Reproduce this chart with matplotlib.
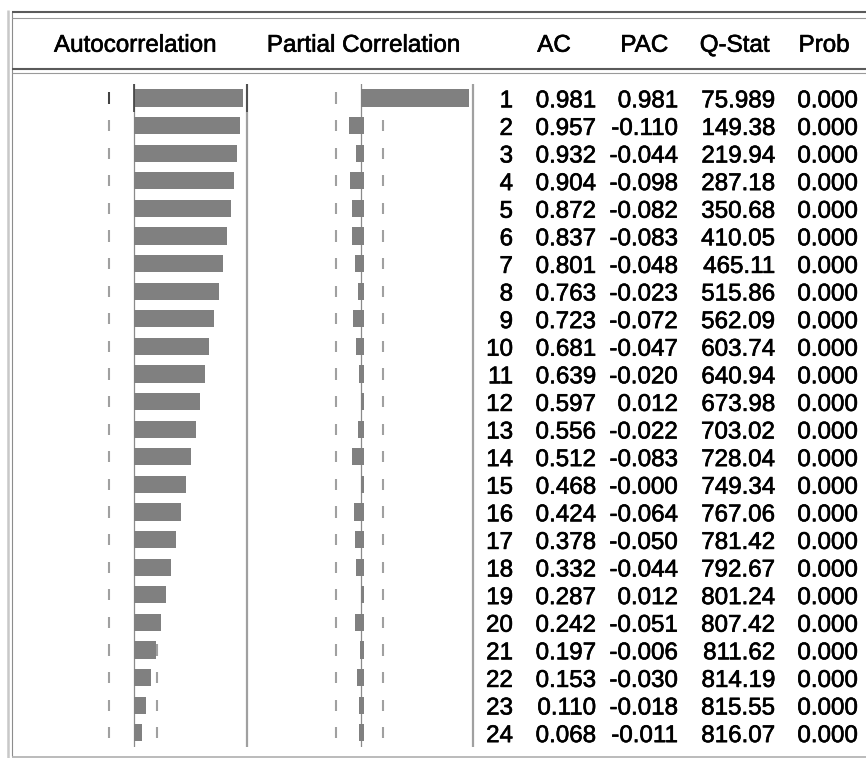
import matplotlib
matplotlib.use("Agg")
import matplotlib.pyplot as plt
import matplotlib.patheffects as pe

plt.rcParams['font.family'] = ['Liberation Sans', 'DejaVu Sans']

# correlogram values
lags = list(range(1, 25))
ac = [0.981, 0.957, 0.932, 0.904, 0.872, 0.837, 0.801, 0.763, 0.723, 0.681, 0.639, 0.597,
      0.556, 0.512, 0.468, 0.424, 0.378, 0.332, 0.287, 0.242, 0.197, 0.153, 0.110, 0.068]
pac = [0.981, -0.110, -0.044, -0.098, -0.082, -0.083, -0.048, -0.023, -0.072, -0.047, -0.020, 0.012,
       -0.022, -0.083, -0.0, -0.064, -0.050, -0.044, 0.012, -0.051, -0.006, -0.030, -0.018, -0.011]
qstat = [75.989, 149.38, 219.94, 287.18, 350.68, 410.05, 465.11, 515.86, 562.09, 603.74, 640.94, 673.98,
         703.02, 728.04, 749.34, 767.06, 781.42, 792.67, 801.24, 807.42, 811.62, 814.19, 815.55, 816.07]
prob = [0.000] * 24
conf_lo, conf_hi = -0.223, 0.205
headers = ["Autocorrelation", "Partial Correlation", "AC", "PAC", "Q-Stat", "Prob"]

W, H = 866, 758
FS = 17.4
thick = [pe.withStroke(linewidth=0.45, foreground='black')]
fig = plt.figure(figsize=(W / 100, H / 100), dpi=100)


def px_axes(x0, y0, x1, y1):
    a = fig.add_axes([x0 / W, 1 - y1 / H, (x1 - x0) / W, (y1 - y0) / H])
    a.set_axis_off()
    return a


# row geometry (pixels)
row1_px, step_px = 98.0, 27.6
top_px, bot_px = 84.0, 747.0
lag_top = 1 + (top_px - row1_px) / step_px
lag_bot = 1 + (bot_px - row1_px) / step_px
edge = 1.023

# frame and header
frame = px_axes(0, 0, W, H)
frame.set_xlim(0, W)
frame.set_ylim(H, 0)
frame.vlines(7.5, 10, H, color='#c8c8c8', lw=1.8)
frame.vlines(12, 12, 756, color='#8c8c8c', lw=0.8)
frame.hlines([12.2, 68.8], 12, W, color='#5a5a5a', lw=1.5)
frame.hlines([18.3, 73.3], 12, W, color='#9a9a9a', lw=0.8)
frame.hlines(756.5, 12, W, color='#a8a8a8', lw=1.1)
for s, xc in zip(headers, [135, 363.3, 554, 644.3, 734.7, 824]):
    frame.text(xc, 51.7, s, ha='center', va='baseline', fontsize=FS, color='black',
               path_effects=thick)


def bar_panel(x0, zero_px, scale, vals):
    a = px_axes(x0, top_px, x0 + 150, bot_px)
    a.set_xlim((x0 - zero_px) / scale, (x0 + 150 - zero_px) / scale)
    a.set_ylim(lag_bot, lag_top)
    lefts, widths = [], []
    for v in vals:
        if v > 0:
            lefts.append(0)
            widths.append(max(v, 0.03))
        else:
            lefts.append(v)
            widths.append(0.028 - v)
    a.vlines([conf_lo] * len(lags), [l - 0.2 for l in lags], [l + 0.2 for l in lags],
             color='#a0a0a0', lw=1.5, zorder=1)
    a.vlines([conf_hi] * len(lags), [l - 0.2 for l in lags], [l + 0.2 for l in lags],
             color='#a0a0a0', lw=1.5, zorder=1)
    a.axvline(0, color='#8a8a8a', lw=0.9, zorder=2)
    a.axvline(edge, color='#a0a0a0', lw=1.6, zorder=2)
    a.barh(lags, widths, left=lefts, height=0.63, color='#808080', zorder=3)
    return a


ax_ac = bar_panel(100, 134.0, 110.8, ac)
ax_pac = bar_panel(326, 360.7, 110.0, pac)

# first row drawn darker in the AC panel
ax_ac.vlines([0, edge], lag_top, 1.5, color='#404040', lw=1.2, zorder=4)
ax_ac.vlines(conf_lo, 0.8, 1.2, color='#404040', lw=1.4, zorder=4)

# numeric table
tab = px_axes(473, top_px, W, bot_px)
tab.set_xlim(473, W)
tab.set_ylim(lag_bot, lag_top)
cols = [513, 596, 678, 775, 858]
off = 0.337
for i, lag in enumerate(lags):
    q = qstat[i]
    cells = [str(lag), f"{ac[i]:.3f}", f"{pac[i]:.3f}",
             f"{q:.3f}" if q < 100 else f"{q:.2f}", f"{prob[i]:.3f}"]
    for xr, s in zip(cols, cells):
        tab.text(xr, lag + off, s, ha='right', va='baseline', fontsize=FS, color='black',
                 path_effects=thick)

fig.savefig("out.png", dpi=100)
